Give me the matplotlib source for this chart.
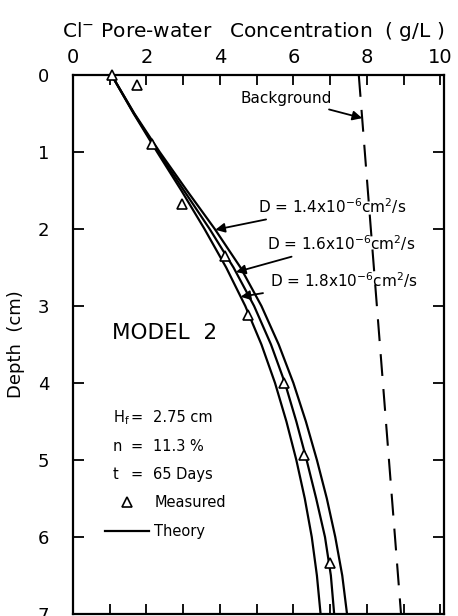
import numpy as np
import matplotlib
matplotlib.use("Agg")
import matplotlib.pyplot as plt
from matplotlib.lines import Line2D

# depth grid (cm) and Cl- concentration (g/L)
depth = [0, 0.5, 1.0, 1.5, 2.0, 2.5, 3.0, 3.5, 4.0, 4.5, 5.0, 5.5, 6.0, 6.5, 7.0]
conc_d14 = [1.05, 1.67, 2.36, 3.10, 3.86, 4.56, 5.13, 5.60, 6.00, 6.34, 6.64, 6.91, 7.14, 7.33, 7.46]
conc_d16 = [1.05, 1.66, 2.32, 3.02, 3.72, 4.37, 4.93, 5.39, 5.77, 6.08, 6.36, 6.62, 6.86, 7.02, 7.11]
conc_d18 = [1.05, 1.65, 2.29, 2.95, 3.58, 4.17, 4.69, 5.13, 5.50, 5.81, 6.08, 6.31, 6.50, 6.64, 6.74]

# measured points
meas_conc = [1.05, 1.75, 2.14, 2.98, 4.14, 4.77, 5.74, 6.29, 7.01]
meas_depth = [0.0, 0.13, 0.89, 1.67, 2.35, 3.12, 4.00, 4.94, 6.34]

# background line (slightly tilted in the scan)
bg_conc = [7.78, 8.93]
bg_depth = [0, 7]

curves = [(conc_d14, "D = 1.4x10$^{-6}$cm$^2$/s", 2.01),
          (conc_d16, "D = 1.6x10$^{-6}$cm$^2$/s", 2.56),
          (conc_d18, "D = 1.8x10$^{-6}$cm$^2$/s", 2.88)]
label_pos = [(5.04, 1.79), (5.28, 2.27), (5.36, 2.75)]

W, H = 458, 616
fig = plt.figure(figsize=(W / 100, H / 100), dpi=100)
ax = fig.add_axes([73 / W, 2 / H, 371 / W, 539 / H])

for c, lab, d_arrow in curves:
    ax.plot(c, depth, color="k", lw=1.6, zorder=3, solid_joinstyle="round")

ax.plot(meas_conc, meas_depth, ls="none", marker="^", ms=7, mfc="white",
        mec="k", mew=1.2, zorder=4, clip_on=False)

ax.plot(bg_conc, bg_depth, color="k", lw=1.5, ls=(0, (10.5, 6.3)))

# D labels with arrows
for (c, lab, d_arrow), (tx, ty) in zip(curves, label_pos):
    ax.annotate(lab, xy=(np.interp(d_arrow, depth, c), d_arrow), xytext=(tx, ty),
                fontsize=11, ha="left", va="baseline",
                arrowprops=dict(arrowstyle="-|>", color="k", lw=1.3,
                                mutation_scale=14, shrinkA=3, shrinkB=0))

ax.annotate("Background", xy=(np.interp(0.56, bg_depth, bg_conc), 0.56),
            xytext=(4.55, 0.30), fontsize=11, ha="left", va="center",
            arrowprops=dict(arrowstyle="-|>", color="k", lw=1.3,
                            mutation_scale=14, shrinkA=3, shrinkB=0))

# text block
ax.text(1.06, 3.35, "MODEL  2", fontsize=15.5, ha="left", va="center")
params = [("H$_\\mathrm{f}$", "2.75 cm", 4.45),
          ("n", "11.3 %", 4.82),
          ("t", "65 Days", 5.19)]
for name, val, yy in params:
    ax.text(1.09, yy, name, fontsize=10.5, ha="left", va="center")
    ax.text(1.74, yy, "=", fontsize=10.5, ha="center", va="center")
    ax.text(2.18, yy, val, fontsize=10.5, ha="left", va="center")

handles = [Line2D([], [], ls="none", marker="^", ms=7, mfc="white", mec="k", mew=1.2),
           Line2D([], [], color="k", lw=1.6)]
ax.legend(handles, ["Measured", "Theory"], loc="upper left",
          bbox_to_anchor=(0.086, 0.221), frameon=False, fontsize=10.5,
          borderpad=0, borderaxespad=0, handlelength=3.0, handletextpad=0.4,
          labelspacing=0.95)

ax.set_xlim(0, 10.1)
ax.set_ylim(7, 0)
ax.xaxis.tick_top()
ax.xaxis.set_label_position("top")
ax.set_xticks([0, 2, 4, 6, 8, 10])
ax.set_xticks(np.arange(0, 11, 1), minor=True)
ax.set_yticks(range(0, 8))
ax.tick_params(axis="x", which="both", direction="in", top=True, bottom=True,
               length=7, width=1.3, labelsize=14, pad=6)
ax.tick_params(axis="y", which="both", direction="in", left=True, right=True,
               length=8, width=1.3, labelsize=13, pad=17)
for s in ax.spines.values():
    s.set_linewidth(1.6)

ax.set_xlabel("Cl$^{-}$ Pore-water   Concentration  ( g/L )", fontsize=14.5, labelpad=7)
ax.xaxis.set_label_coords(0.485, 1.07)
ax.set_ylabel("Depth  (cm)", fontsize=13, labelpad=9)

fig.savefig("out.png", dpi=100)
